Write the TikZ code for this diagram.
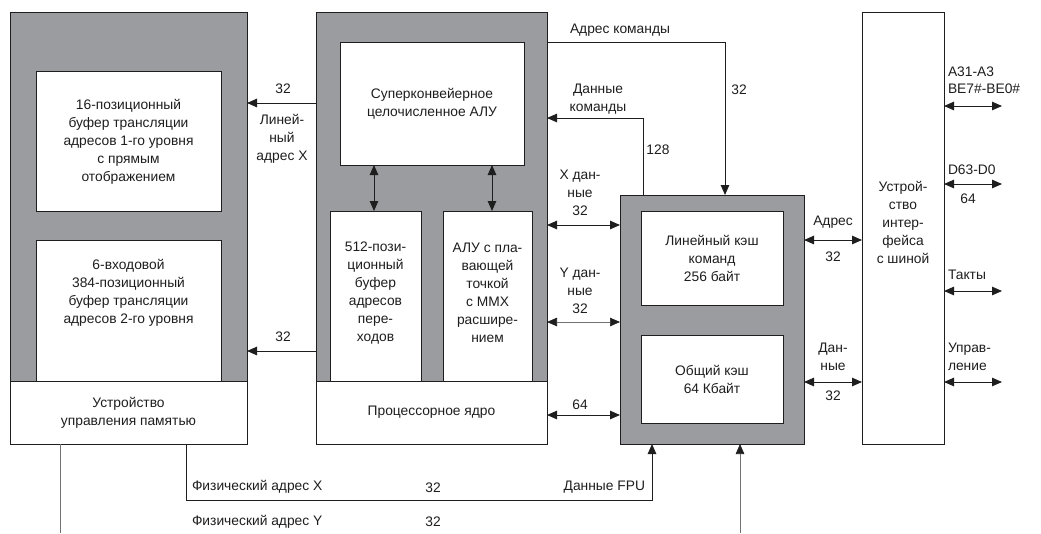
\documentclass[tikz,border=0pt]{standalone}
\usepackage{fontspec}
\setmainfont{Liberation Sans}
\usetikzlibrary{arrows.meta}
\definecolor{blockgray}{RGB}{154,156,159}
\definecolor{ink}{RGB}{30,30,30}
\begin{document}
\begin{tikzpicture}[x=1pt,y=-1pt,
  every node/.style={inner sep=0pt,outer sep=0pt,text=ink,font=\fontsize{13.8}{18}\selectfont,align=center},
  grayblock/.style={draw=ink,line width=1pt,fill=blockgray},
  whitebox/.style={draw=ink,line width=1pt,fill=white},
  conn/.style={draw=ink,line width=1pt},
  thinconn/.style={draw=black!55,line width=0.6pt},
  arr/.style={-{Triangle[length=10pt,width=8.5pt,color=ink]}},
  darr/.style={{Triangle[length=10pt,width=8.5pt,color=ink]}-{Triangle[length=10pt,width=8.5pt,color=ink]}}]
\useasboundingbox[fill=white] (0,0) rectangle (1041,533);

% --- memory management unit ---
\node[grayblock,minimum width=237pt,minimum height=369pt] (mmu) at (128.5,196.5) {};
\node[whitebox,minimum width=237pt,minimum height=63pt] (mmuB) at (128.5,412.5) {Устройство\\управления памятью};
\node[whitebox,minimum width=185pt,minimum height=140pt] (tlbA) at (128.5,141.5) {16-позиционный\\буфер трансляции\\адресов 1-го уровня\\с прямым\\отображением};
\node[whitebox,minimum width=185pt,minimum height=141pt] (tlbB) at (128.5,310.5) {};
\node (tlbBt) at (128.5,293) {6-входовой\\384-позиционный\\буфер трансляции\\адресов 2-го уровня};

% --- processor core ---
\node[grayblock,minimum width=231pt,minimum height=369pt] (core) at (431.5,196.5) {};
\node[whitebox,minimum width=231pt,minimum height=63pt] (coreB) at (431.5,412.5) {Процессорное ядро};
\node[whitebox,minimum width=184pt,minimum height=123pt] (alu) at (432,103.5) {Суперконвейерное\\целочисленное АЛУ};
\node[whitebox,minimum width=91pt,minimum height=170pt] (btb) at (375.5,296) {};
\node (btbt) at (375.5,293) {512-пози-\\ционный\\буфер\\адресов\\пере-\\ходов};
\node[whitebox,minimum width=89pt,minimum height=170pt] (fpu) at (487.5,296) {};
\node (fput) at (487.5,293) {АЛУ с пла-\\вающей\\точкой\\с MMX\\расшире-\\нием};

% --- caches ---
\node[grayblock,minimum width=184pt,minimum height=249pt] (cache) at (712,319.5) {};
\node[whitebox,minimum width=142pt,minimum height=94pt] (icache) at (712,258) {Линейный кэш\\команд\\256 байт};
\node[whitebox,minimum width=142pt,minimum height=88pt] (dcache) at (712,379) {Общий кэш\\64 Кбайт};

% --- bus interface ---
\node[whitebox,minimum width=82pt,minimum height=432pt] (biu) at (903,228) {};
\node (biut) at (903,222) {Устрой-\\ство\\интер-\\фейса\\с шиной};

% --- internal connectors ---
\draw[conn,darr] (alu.south -| 374,0) -- (btb.north -| 374,0);
\draw[conn,darr] (alu.south -| 492,0) -- (fpu.north -| 492,0);

\draw[conn,arr] (core.west |- 0,103) -- (mmu.east |- 0,103);
\node (l32a) at (283,89) {32};
\node (lin) at (282,139) {Линей-\\ный\\адрес X};
\draw[conn,arr] (core.west |- 0,351) -- (mmu.east |- 0,351);
\node (l32b) at (283,337) {32};

\draw[conn,arr] (core.east |- 0,42) -| (cache.north -| 725,0);
\node (adrk) at (620,30) {Адрес команды};
\node (l32c) at (739,90) {32};
\draw[conn,arr] (cache.north -| 643,0) |- (core.east |- 0,118);
\node (dk) at (598,99) {Данные\\команды};
\node (l128) at (658,150) {128};

\draw[conn,darr] (core.east |- 0,225) -- (cache.west |- 0,225);
\node (xd) at (580,193) {X дан-\\ные\\32};
\draw[thinconn,darr] (core.east |- 0,322) -- (cache.west |- 0,322);
\node (yd) at (580,291) {Y дан-\\ные\\32};
\draw[conn,darr] (coreB.east |- 0,415) -- (cache.west |- 0,415);
\node (l64a) at (580,405) {64};

\draw[conn,darr] (cache.east |- 0,240) -- (biu.west |- 0,240);
\node (adr) at (833,222) {Адрес};
\node (l32d) at (833,257) {32};
\draw[conn,darr] (cache.east |- 0,382) -- (biu.west |- 0,382);
\node (dan) at (833,357) {Дан-\\ные};
\node (l32e) at (833,396) {32};

% --- external bus ---
\coordinate (eA) at (1002,106);
\coordinate (eD) at (1002,184);
\coordinate (eT) at (1002,291);
\coordinate (eU) at (1002,382);
\draw[conn,darr] (biu.east |- eA) -- (eA);
\node[anchor=west,align=left,font=\fontsize{13.8}{16.5}\selectfont] (la) at (948,80) {A31-A3\\BE7\#-BE0\#};
\draw[conn,darr] (biu.east |- eD) -- (eD);
\node[anchor=west] (ld) at (948,170) {D63-D0};
\node (l64b) at (968,199) {64};
\draw[conn,darr] (biu.east |- eT) -- (eT);
\node[anchor=west] (lt) at (948,275) {Такты};
\draw[conn,darr] (biu.east |- eU) -- (eU);
\node[anchor=west,align=left] (lu) at (948,357) {Управ-\\ление};

% --- bottom lines ---
\coordinate (b1) at (60,533);
\draw[thinconn] (mmuB.south -| b1) -- (b1);
\coordinate (c1) at (186,500);
\coordinate (c2) at (652,500);
\draw[conn,arr] (mmuB.south -| c1) -- (c1) -- (c2) -- (cache.south -| c2);
\coordinate (b2) at (740,533);
\draw[thinconn,arr] (b2) -- (cache.south -| b2);
\node[anchor=west] (fx) at (192,487) {Физический адрес X};
\node (l32f) at (433,488) {32};
\node[anchor=east] (fpud) at (645,487) {Данные FPU};
\node[anchor=west] (fy) at (192,522) {Физический адрес Y};
\node (l32g) at (433,522) {32};
\end{tikzpicture}
\end{document}
